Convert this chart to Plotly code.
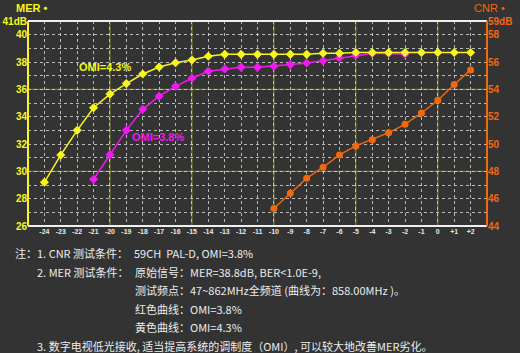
import plotly.graph_objects as go

x_cats = list(range(-24, 3))
x_labels = [str(v) if v <= 0 else "+" + str(v) for v in x_cats]

mer_43_x = list(range(-24, 3))
mer_43 = [29.2, 31.2, 33.0, 34.65, 35.65, 36.42, 37.12, 37.63, 37.95, 38.15, 38.42,
          38.56, 38.56, 38.56, 38.56, 38.56, 38.56, 38.64, 38.64, 38.7, 38.7, 38.7,
          38.7, 38.7, 38.7, 38.7, 38.7]

mer_38_x = list(range(-21, -1))
mer_38 = [29.42, 31.22, 33.0, 34.54, 35.5, 36.22, 36.81, 37.32, 37.49, 37.61, 37.61,
          37.69, 37.81, 37.93, 38.1, 38.3, 38.49, 38.62, 38.62, 38.57]

cnr_x = list(range(-10, 3))
cnr = [45.28, 46.4, 47.49, 48.3, 49.2, 49.86, 50.32, 50.83, 51.44, 52.27, 53.2, 54.35, 55.42]

left_ticks = list(range(26, 42))
left_labels = ["41dB" if v == 41 else (str(v) if v % 2 == 0 else "") for v in left_ticks]
right_ticks = list(range(44, 60))
right_labels = ["59dB" if v == 59 else (str(v) if v % 2 == 0 else "") for v in right_ticks]

notes = [
    (13, 253, "注：1. CNR 测试条件："), (132, 253, "59CH  PAL-D, OMI=3.8%"),
    (35, 272, "2. MER 测试条件："), (133, 272, "原始信号：MER=38.8dB, BER<1.0E-9,"),
    (133, 290, "测试频点：47~862MHz全频道 (曲线为：858.00MHz )。"),
    (133, 309, "红色曲线：OMI=3.8%"),
    (133, 327, "黄色曲线：OMI=4.3%"),
    (35, 346, "3. 数字电视低光接收, 适当提高系统的调制度（OMI）, 可以较大地改善MER劣化。"),
]

YEL = "#f7f71e"
MAG = "#ee1cee"
ORA = "#f2680f"
BG = "#333333"
GRID = "rgba(220,220,220,0.8)"

fig = go.Figure()
fig.add_trace(go.Scatter(x=mer_38_x, y=mer_38, mode="lines+markers",
                         line=dict(color=MAG, width=1.5),
                         marker=dict(symbol="diamond", size=7, color=MAG), yaxis="y"))
fig.add_trace(go.Scatter(x=mer_43_x, y=mer_43, mode="lines+markers",
                         line=dict(color=YEL, width=1.5),
                         marker=dict(symbol="diamond", size=7, color=YEL), yaxis="y"))
fig.add_trace(go.Scatter(x=cnr_x, y=cnr, mode="lines+markers",
                         line=dict(color=ORA, width=1.5),
                         marker=dict(symbol="circle", size=7, color=ORA), yaxis="y2"))

shapes = []
for xv in [-20, -15, -10, -5, 0]:
    shapes.append(dict(type="line", xref="x", yref="paper", x0=xv, x1=xv, y0=0, y1=1,
                       line=dict(color="#8f8f2a", width=1), layer="below"))
for yv in [30, 36]:
    shapes.append(dict(type="line", xref="paper", yref="y", x0=0, x1=1, y0=yv, y1=yv,
                       line=dict(color="#8f8f2a", width=1), layer="below"))
shapes.append(dict(type="line", xref="paper", yref="paper", x0=0, x1=1, y0=1, y1=1,
                   line=dict(color="#f0f0f0", width=2)))
shapes.append(dict(type="line", xref="paper", yref="paper", x0=0, x1=1, y0=0, y1=0,
                   line=dict(color="#f0f0f0", width=2)))
shapes.append(dict(type="line", xref="paper", yref="paper", x0=0, x1=0, y0=0, y1=1,
                   line=dict(color=YEL, width=2)))
shapes.append(dict(type="line", xref="paper", yref="paper", x0=1, x1=1, y0=0, y1=1,
                   line=dict(color=ORA, width=2)))

plot_l, plot_r, plot_t, plot_b = 28, 487, 21, 226
def to_paper(px, py):
    return (px - plot_l) / (plot_r - plot_l), (plot_b - py) / (plot_b - plot_t)

ann = [
    dict(text="OMI=4.3%", x=-22.0, y=37.6, xref="x", yref="y", xanchor="left", yanchor="middle",
         showarrow=False, font=dict(color=YEL, size=11, family="Liberation Sans", weight="bold")),
    dict(text="OMI=3.8%", x=-18.8, y=32.5, xref="x", yref="y", xanchor="left", yanchor="middle",
         showarrow=False, font=dict(color=MAG, size=11, family="Liberation Sans", weight="bold")),
]
pix = [(14, 8, "MER •", YEL, True), (472, 8, "CNR •", ORA, False)]
for px, py, t, c, b in pix:
    xp, yp = to_paper(px, py)
    ann.append(dict(text=t, x=xp, y=yp, xref="paper", yref="paper", xanchor="left",
                    yanchor="middle", showarrow=False,
                    font=dict(color=c, size=11, family="Liberation Sans",
                              weight="bold" if b else "normal")))
for px, py, t in notes:
    xp, yp = to_paper(px, py)
    ann.append(dict(text=t, x=xp, y=yp, xref="paper", yref="paper", xanchor="left",
                    yanchor="middle", showarrow=False,
                    font=dict(color="#ececec", size=11, family="Noto Sans CJK SC")))

fig.update_layout(
    width=520, height=353,
    margin=dict(l=plot_l, r=520 - plot_r, t=plot_t, b=353 - plot_b),
    paper_bgcolor=BG, plot_bgcolor=BG,
    showlegend=False,
    shapes=shapes,
    annotations=ann,
    xaxis=dict(range=[-25, 3], tickvals=x_cats, ticktext=x_labels, showgrid=True,
               gridcolor=GRID, griddash="dot", gridwidth=1, zeroline=False, automargin=False,
               tickfont=dict(color="#e8e8e8", size=7, family="Liberation Sans", weight="bold"),
               ticks="", showline=False, fixedrange=True),
    yaxis=dict(range=[26, 41], tickvals=left_ticks, ticktext=left_labels, showgrid=True,
               gridcolor=GRID, griddash="dot", gridwidth=1, zeroline=False, automargin=False,
               tickfont=dict(color=YEL, size=10, family="Liberation Sans", weight="bold"),
               ticks="", showline=False),
    yaxis2=dict(range=[44, 59], tickvals=right_ticks, ticktext=right_labels, overlaying="y",
                side="right", showgrid=False, zeroline=False, automargin=False,
                tickfont=dict(color=ORA, size=10, family="Liberation Sans", weight="bold"),
                ticks="", showline=False),
)

fig.write_html("out.html")
